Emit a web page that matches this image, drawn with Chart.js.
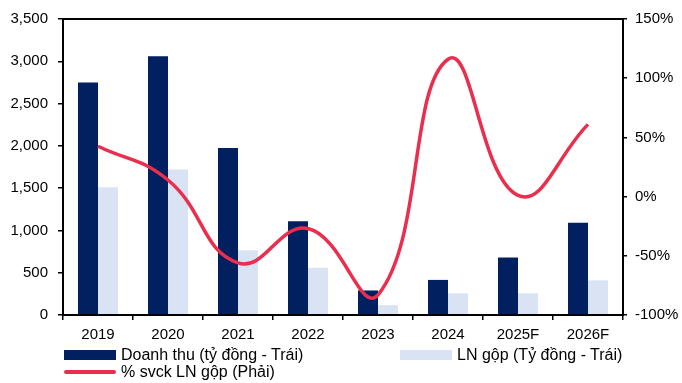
<!DOCTYPE html>
<html>
<head>
<meta charset="utf-8">
<script src="https://cdn.jsdelivr.net/npm/chart.js@4/dist/chart.umd.min.js"></script>
<style>
  html, body { margin: 0; padding: 0; background: #fff; }
  #wrap { position: relative; width: 682px; height: 383px; }
  #c { position: absolute; left: 0; top: 0; }
  .leg { position: absolute; font-family: "Liberation Sans", Arial, sans-serif; font-size: 16px; color: #000; display: flex; align-items: center; white-space: nowrap; }
  .sw { display: inline-block; width: 52px; margin-right: 5px; }
</style>
</head>
<body>
<div id="wrap">
  <canvas id="c" width="682" height="383"></canvas>
  <div id="legend"></div>
</div>
<script>
// Years and forecasts
const categories = ['2019', '2020', '2021', '2022', '2023', '2024', '2025F', '2026F'];
// Revenue, billion VND (left axis)
const revenue = [2750, 3060, 1975, 1110, 290, 415, 680, 1090];
// Gross profit, billion VND (left axis)
const grossProfit = [1510, 1720, 765, 558, 116, 256, 256, 410];
// Gross profit growth yoy, % (right axis)
const gpGrowth = [42.5, 14, -56, -27, -83, 116, 1, 61];

const leftTicks = [0, 500, 1000, 1500, 2000, 2500, 3000, 3500];
const rightTicks = [-100, -50, 0, 50, 100, 150];

const NAVY = '#002060';
const LIGHT = '#DAE3F3';
const RED = '#EA2E4D';
const FONT = { family: '"Liberation Sans", Arial, sans-serif', size: 15 };

// Frame around the plot area
const frame = {
  id: 'frame',
  afterDraw(chart) {
    const { ctx, chartArea: a } = chart;
    ctx.save();
    ctx.strokeStyle = '#000';
    ctx.lineWidth = 2;
    ctx.strokeRect(a.left, a.top, a.right - a.left, a.bottom - a.top);
    ctx.restore();
  }
};

const chart = new Chart(document.getElementById('c'), {
  type: 'bar',
  data: {
    labels: categories,
    datasets: [
      {
        label: 'Doanh thu (tỷ đồng - Trái)',
        data: revenue,
        backgroundColor: NAVY,
        yAxisID: 'y',
        order: 2,
        categoryPercentage: 40 / 70,
        barPercentage: 1.0
      },
      {
        label: 'LN gộp (Tỷ đồng - Trái)',
        data: grossProfit,
        backgroundColor: LIGHT,
        yAxisID: 'y',
        order: 2,
        categoryPercentage: 40 / 70,
        barPercentage: 1.0
      },
      {
        type: 'line',
        label: '% svck LN gộp (Phải)',
        data: gpGrowth,
        borderColor: RED,
        borderWidth: 3.5,
        pointRadius: 0,
        tension: 0.45,
        fill: false,
        yAxisID: 'y1',
        order: 1
      }
    ]
  },
  options: {
    responsive: false,
    animation: false,
    devicePixelRatio: 1,
    layout: { padding: { top: 14, left: 0, right: 0, bottom: 0 } },
    plugins: { legend: { display: false }, tooltip: { enabled: false } },
    scales: {
      x: {
        offset: true,
        grid: { drawOnChartArea: false, drawTicks: true, tickLength: 5, color: '#000', lineWidth: 1.5, offset: true },
        border: { display: true, color: '#000', width: 2 },
        ticks: { color: '#000', font: FONT, padding: 6, maxRotation: 0 },
        afterFit(s) { s.height = 68; }
      },
      y: {
        position: 'left',
        min: 0, max: 3500,
        afterBuildTicks(s) { s.ticks = leftTicks.map(v => ({ value: v })); },
        grid: { drawOnChartArea: false, drawTicks: true, tickLength: 5, color: '#000', lineWidth: 1.5 },
        border: { display: true, color: '#000', width: 2 },
        ticks: { color: '#000', font: FONT, padding: 10, callback: v => v.toLocaleString('en-US') },
        afterFit(s) { s.width = 63; }
      },
      y1: {
        position: 'right',
        min: -100, max: 150,
        afterBuildTicks(s) { s.ticks = rightTicks.map(v => ({ value: v })); },
        grid: { drawOnChartArea: false, drawTicks: true, tickLength: 4, color: '#000', lineWidth: 1.5 },
        border: { display: true, color: '#000', width: 2 },
        ticks: { color: '#000', font: FONT, padding: 8, callback: v => v + '%' },
        afterFit(s) { s.width = 59; }
      }
    }
  },
  plugins: [frame]
});

// Legend below the axis, built from the dataset labels
const legendEl = document.getElementById('legend');
const legendPos = [
  { left: 64, top: 346 },
  { left: 400, top: 346 },
  { left: 64, top: 363 }
];
chart.data.datasets.forEach((ds, i) => {
  const item = document.createElement('div');
  item.className = 'leg';
  item.style.left = legendPos[i].left + 'px';
  item.style.top = legendPos[i].top + 'px';
  item.style.height = '18px';
  const sw = document.createElement('span');
  sw.className = 'sw';
  if (ds.type === 'line') {
    sw.style.height = '4px';
    sw.style.background = ds.borderColor;
    sw.style.borderRadius = '2px';
  } else {
    sw.style.height = '10px';
    sw.style.background = ds.backgroundColor;
  }
  const tx = document.createElement('span');
  tx.textContent = ds.label;
  item.appendChild(sw);
  item.appendChild(tx);
  legendEl.appendChild(item);
});
</script>
</body>
</html>
